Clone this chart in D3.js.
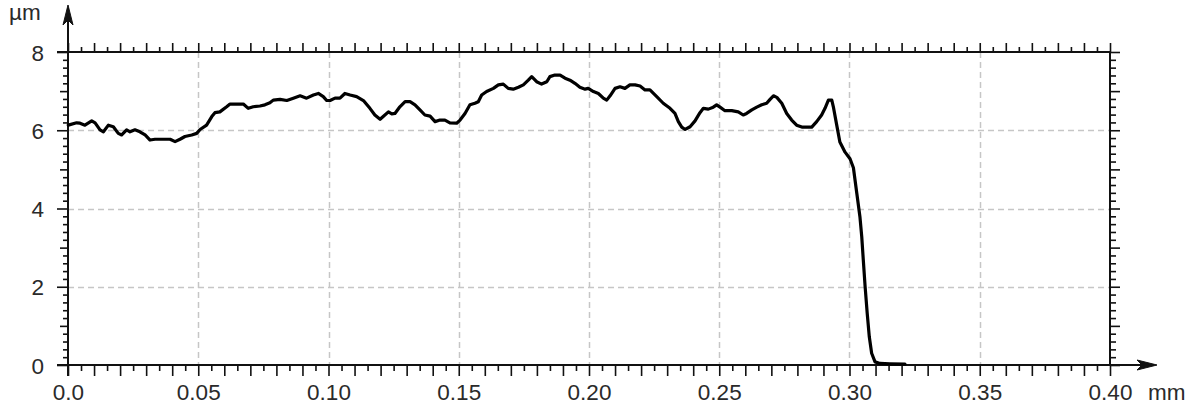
<!DOCTYPE html>
<html><head><meta charset="utf-8">
<script src="https://cdn.jsdelivr.net/npm/d3@7"></script>
<style>body{margin:0;background:#fff}svg{display:block}</style>
</head><body><svg id="c" width="1194" height="409"></svg>
<script>
// ---- data (profile: position in mm, height in µm) ----
const profileX = [0.0001,0.0033,0.0046,0.0065,0.0091,0.0104,0.0123,0.0136,0.0155,0.0174,
0.0193,0.0206,0.0225,0.0238,0.0257,0.0276,0.0296,0.0315,0.0334,0.0392,
0.0411,0.0430,0.0449,0.0475,0.0494,0.0507,0.0532,0.0552,0.0564,0.0583,
0.0609,0.0622,0.0673,0.0692,0.0711,0.0737,0.0756,0.0775,0.0788,0.0814,
0.0840,0.0865,0.0891,0.0916,0.0942,0.0961,0.0980,0.0993,0.1006,0.1025,
0.1044,0.1063,0.1083,0.1108,0.1134,0.1159,0.1178,0.1198,0.1210,0.1230,
0.1243,0.1255,0.1274,0.1294,0.1313,0.1332,0.1351,0.1370,0.1390,0.1409,
0.1428,0.1447,0.1466,0.1492,0.1505,0.1524,0.1543,0.1562,0.1575,0.1588,
0.1607,0.1633,0.1652,0.1671,0.1690,0.1709,0.1729,0.1748,0.1767,0.1780,
0.1799,0.1818,0.1838,0.1850,0.1869,0.1889,0.1908,0.1927,0.1946,0.1965,
0.1985,0.1997,0.2017,0.2036,0.2055,0.2068,0.2081,0.2100,0.2119,0.2138,
0.2157,0.2177,0.2196,0.2215,0.2234,0.2260,0.2285,0.2311,0.2330,0.2343,
0.2356,0.2369,0.2388,0.2407,0.2426,0.2439,0.2458,0.2477,0.2490,0.2503,
0.2522,0.2548,0.2573,0.2592,0.2605,0.2625,0.2644,0.2663,0.2682,0.2695,
0.2708,0.2721,0.2740,0.2759,0.2778,0.2797,0.2817,0.2855,0.2874,0.2893,
0.2906,0.2919,0.2932,0.2938,0.2951,0.2963,0.2983,0.3002,0.3015,0.3028,
0.3040,0.3047,0.3053,0.3060,0.3068,0.3076,0.3085,0.3098,0.3117,0.3155,
0.3213];
const profileY = [6.13,6.19,6.18,6.13,6.24,6.19,6.01,5.96,6.13,6.09,
5.92,5.88,6.01,5.96,6.01,5.96,5.88,5.75,5.77,5.77,
5.71,5.77,5.84,5.88,5.92,6.02,6.13,6.35,6.45,6.47,
6.60,6.67,6.67,6.56,6.60,6.62,6.65,6.70,6.77,6.79,
6.76,6.82,6.88,6.82,6.90,6.94,6.86,6.76,6.76,6.82,
6.82,6.94,6.90,6.86,6.76,6.56,6.39,6.28,6.35,6.47,
6.42,6.43,6.60,6.73,6.73,6.65,6.52,6.39,6.36,6.22,
6.26,6.26,6.19,6.18,6.26,6.43,6.65,6.69,6.73,6.90,
6.99,7.07,7.16,7.18,7.07,7.05,7.10,7.16,7.28,7.37,
7.24,7.18,7.24,7.37,7.41,7.41,7.33,7.28,7.20,7.10,
7.05,7.07,6.99,6.94,6.82,6.77,6.88,7.07,7.11,7.07,
7.16,7.16,7.13,7.03,7.03,6.86,6.69,6.56,6.43,6.22,
6.08,6.02,6.09,6.24,6.45,6.56,6.54,6.59,6.65,6.59,
6.50,6.50,6.47,6.39,6.43,6.52,6.59,6.65,6.69,6.79,
6.88,6.84,6.69,6.43,6.26,6.13,6.08,6.08,6.22,6.39,
6.56,6.77,6.77,6.60,6.13,5.70,5.44,5.27,5.04,4.39,
3.79,3.28,2.68,2.00,1.32,0.72,0.30,0.08,0.04,0.03,
0.02];
const xTickValues = [0,0.05,0.10,0.15,0.20,0.25,0.30,0.35,0.40];
const xTickLabels = ["0.0","0.05","0.10","0.15","0.20","0.25","0.30","0.35","0.40"];
const yTickValues = [0,2,4,6,8];
const yTickLabels = ["0","2","4","6","8"];
const xUnit = "mm";
const yUnit = "µm";

// ---- layout ----
const svg = d3.select("#c");
const L = 68, R = 1110, T = 52, B = 365;
const x = d3.scaleLinear().domain([0, 0.4]).range([L, R]);
const y = d3.scaleLinear().domain([0, 8]).range([B, T]);
const INK = "#111";
const FONT = "Liberation Sans, Arial, sans-serif";
const FS = 22.5;
const TXT = "#2a2a2a";

// grid
const gridX = xTickValues.slice(1, -1), gridY = yTickValues.slice(1, -1);
svg.append("g").selectAll("line").data(gridX).join("line")
  .attr("x1", d => Math.round(x(d)) + 0.5).attr("x2", d => Math.round(x(d)) + 0.5)
  .attr("y1", T).attr("y2", B)
  .attr("stroke", "#c6c6c6").attr("stroke-width", 1.5).attr("stroke-dasharray", "6,4");
svg.append("g").selectAll("line").data(gridY).join("line")
  .attr("y1", d => Math.round(y(d)) + 0.5).attr("y2", d => Math.round(y(d)) + 0.5)
  .attr("x1", L).attr("x2", R)
  .attr("stroke", "#c6c6c6").attr("stroke-width", 1.5).attr("stroke-dasharray", "6,4");

// tick helper
function ticks(axisFn, scale, values, size, tr) {
  const g = svg.append("g").attr("transform", tr)
    .call(axisFn(scale).tickValues(values).tickSize(size).tickFormat(""));
  g.select(".domain").remove();
  g.selectAll("line").attr("stroke", INK).attr("stroke-width", 1.6);
  return g;
}
const xFine = d3.range(0, 81).map(i => i * 0.005);
const xOdd = xFine.filter((d, i) => i % 2 === 1);
const xEven = xFine.filter((d, i) => i % 2 === 0);
const yFine = d3.range(0, 41).map(i => i * 0.2);
const yMinor = yFine.filter((d, i) => i % 5 !== 0);
const yOdd = yFine.filter((d, i) => i % 10 === 5);
const yEven = yFine.filter((d, i) => i % 10 === 0);

ticks(d3.axisBottom, x, xOdd, 6, `translate(0,${B})`);
ticks(d3.axisBottom, x, xEven, 11, `translate(0,${B})`);
ticks(d3.axisTop, x, xOdd, 5, `translate(0,${T})`);
ticks(d3.axisTop, x, xEven, 9, `translate(0,${T})`);
ticks(d3.axisLeft, y, yMinor, 5, `translate(${L},0)`);
ticks(d3.axisLeft, y, yOdd, 8, `translate(${L},0)`);
ticks(d3.axisLeft, y, yEven, 11, `translate(${L},0)`);
ticks(d3.axisRight, y, yMinor, 6, `translate(${R},0)`);
ticks(d3.axisRight, y, yOdd, 10, `translate(${R},0)`);
ticks(d3.axisRight, y, yEven, 10, `translate(${R},0)`);

// frame + axis lines
const frame = svg.append("g").attr("stroke", INK).attr("stroke-width", 2).attr("fill", "none");
frame.append("line").attr("x1", L - 11).attr("x2", R).attr("y1", T).attr("y2", T);
frame.append("line").attr("x1", R).attr("x2", R).attr("y1", T).attr("y2", B);
frame.append("line").attr("x1", L - 11).attr("x2", 1154).attr("y1", B).attr("y2", B);
frame.append("line").attr("x1", L).attr("x2", L).attr("y1", B + 11).attr("y2", 8);
// arrowheads
svg.append("path").attr("d", `M${L},5 L${L + 5},25 L${L},20 L${L - 5},25 Z`).attr("fill", INK)
  .attr("stroke", INK).attr("stroke-width", 1).attr("stroke-linejoin", "round");
svg.append("path").attr("d", `M1157,${B} L1137,${B - 5} L1142,${B} L1137,${B + 5} Z`).attr("fill", INK)
  .attr("stroke", INK).attr("stroke-width", 1).attr("stroke-linejoin", "round");

// labels
const xl = svg.append("g").attr("transform", `translate(0,${B})`)
  .call(d3.axisBottom(x).tickValues(xTickValues).tickSize(0).tickPadding(0)
    .tickFormat((d, i) => xTickLabels[i]));
xl.select(".domain").remove();
xl.selectAll("text").attr("y", 35).attr("dy", null)
  .attr("font-family", FONT).attr("font-size", FS).attr("fill", TXT);

const yl = svg.append("g").attr("transform", `translate(${L},0)`)
  .call(d3.axisLeft(y).tickValues(yTickValues).tickSize(0).tickPadding(0)
    .tickFormat((d, i) => yTickLabels[i]));
yl.select(".domain").remove();
yl.selectAll("text").attr("x", -24).attr("dy", "0.36em")
  .attr("font-family", FONT).attr("font-size", FS).attr("fill", TXT);

svg.append("text").attr("x", 1148).attr("y", B + 35).text(xUnit)
  .attr("font-family", FONT).attr("font-size", FS).attr("fill", TXT);
svg.append("text").attr("x", 9).attr("y", 20).text(yUnit)
  .attr("font-family", FONT).attr("font-size", FS).attr("fill", TXT);

// profile line
const pts = profileX.map((d, i) => [d, profileY[i]]);
svg.append("path").datum(pts)
  .attr("d", d3.line().x(d => x(d[0])).y(d => y(d[1])))
  .attr("fill", "none").attr("stroke", "#000").attr("stroke-width", 3.2)
  .attr("stroke-linejoin", "round").attr("stroke-linecap", "round");
</script></body></html>
